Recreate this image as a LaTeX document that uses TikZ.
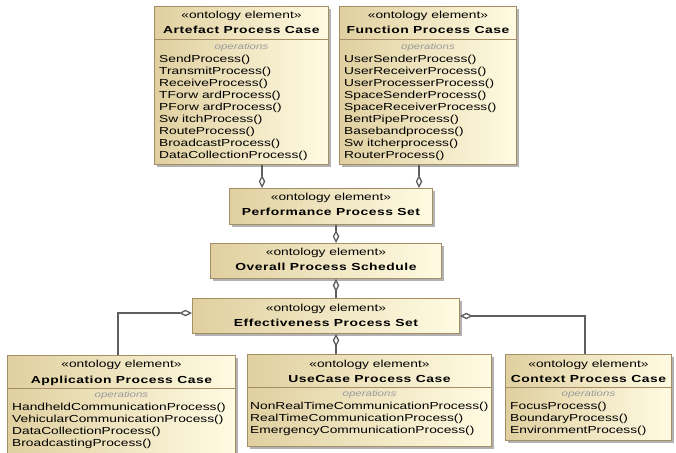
\documentclass[tikz,border=0pt]{standalone}
\usepackage{fontspec}
\setmainfont{Liberation Sans}[FakeStretch=1.35]
\newfontfamily\titlefam{Liberation Sans}[FakeStretch=1.36, LetterSpace=5]
\usetikzlibrary{arrows.meta, shadows}
\definecolor{boxL}{HTML}{E0D0A0}
\definecolor{boxR}{HTML}{FFFBE2}
\definecolor{boxEdge}{HTML}{A58D68}
\definecolor{wire}{HTML}{5E5E5E}
\definecolor{opsGray}{HTML}{9A9A9A}
\begin{document}
\begin{tikzpicture}[x=1pt, y=-1pt,
  umlbox/.style={draw=boxEdge, line width=0.9pt, left color=boxL, right color=boxR,
    drop shadow={shadow xshift=3pt, shadow yshift=-3pt, fill=black, opacity=0.3},
    rectangle, inner sep=0pt, anchor=north west},
  stereo/.style={font=\fontsize{10.2}{12}\selectfont, anchor=base, inner sep=0pt},
  title/.style={font=\titlefam\bfseries\fontsize{10.2}{12}\selectfont, anchor=base, inner sep=0pt},
  opslabel/.style={font=\itshape\fontsize{8.5}{10}\selectfont, text=opsGray, anchor=base, inner sep=0pt},
  oplist/.style={font=\fontsize{10.2}{12}\selectfont, align=left, anchor=north west, inner sep=0pt},
  sepline/.style={draw=boxEdge, line width=0.8pt},
  agg/.style={draw=wire, line width=1.3pt, -{Diamond[open, length=13pt, width=6.5pt, fill=white]}}
]
\useasboundingbox (0,0) rectangle (676,452);

% ---------- class boxes ----------
\node[umlbox, minimum width=174pt, minimum height=158pt] (art) at (154,6) {};
\node[umlbox, minimum width=177pt, minimum height=158pt] (fun) at (339,6) {};
\node[umlbox, minimum width=203pt, minimum height=36pt] (perf) at (229,188) {};
\node[umlbox, minimum width=231pt, minimum height=35pt] (over) at (210,243) {};
\node[umlbox, minimum width=267pt, minimum height=35pt] (eff) at (192,298) {};
\node[umlbox, minimum width=228pt, minimum height=110pt] (app) at (7,355) {};
\node[umlbox, minimum width=244pt, minimum height=92pt] (use) at (247,354) {};
\node[umlbox, minimum width=166pt, minimum height=86pt] (ctx) at (505,354) {};

% ---------- headers ----------
\node[stereo] (artS) at (art.north |- 0,19) {«ontology element»};
\node[title]  (artT) at (art.north |- 0,34) {Artefact Process Case};
\draw[sepline] (art.west |- 0,39) -- (art.east |- 0,39);
\node[opslabel] (artO) at (art.north |- 0,49) {operations};
\node[oplist] (artL) at ([xshift=5pt]art.west |- 0,55) {SendProcess()\\TransmitProcess()\\ReceiveProcess()\\TForw ardProcess()\\PForw ardProcess()\\Sw itchProcess()\\RouteProcess()\\BroadcastProcess()\\DataCollectionProcess()};

\node[stereo] (funS) at (fun.north |- 0,19) {«ontology element»};
\node[title]  (funT) at (fun.north |- 0,34) {Function Process Case};
\draw[sepline] (fun.west |- 0,39) -- (fun.east |- 0,39);
\node[opslabel] (funO) at (fun.north |- 0,49) {operations};
\node[oplist] (funL) at ([xshift=5pt]fun.west |- 0,55) {UserSenderProcess()\\UserReceiverProcess()\\UserProcesserProcess()\\SpaceSenderProcess()\\SpaceReceiverProcess()\\BentPipeProcess()\\Basebandprocess()\\Sw itcherprocess()\\RouterProcess()};

\node[stereo] (perfS) at (perf.north |- 0,200.5) {«ontology element»};
\node[title]  (perfT) at (perf.north |- 0,215.5) {Performance Process Set};

\node[stereo] (overS) at (over.north |- 0,255) {«ontology element»};
\node[title]  (overT) at (over.north |- 0,270.5) {Overall Process Schedule};

\node[stereo] (effS) at (eff.north |- 0,311.5) {«ontology element»};
\node[title]  (effT) at (eff.north |- 0,326.5) {Effectiveness Process Set};

\node[stereo] (appS) at (app.north |- 0,367) {«ontology element»};
\node[title]  (appT) at (app.north |- 0,383) {Application Process Case};
\draw[sepline] (app.west |- 0,388) -- (app.east |- 0,388);
\node[opslabel] (appO) at (app.north |- 0,397.5) {operations};
\node[oplist] (appL) at ([xshift=5pt]app.west |- 0,403) {HandheldCommunicationProcess()\\VehicularCommunicationProcess()\\DataCollectionProcess()\\BroadcastingProcess()};

\node[stereo] (useS) at (use.north |- 0,367) {«ontology element»};
\node[title]  (useT) at (use.north |- 0,382) {UseCase Process Case};
\draw[sepline] (use.west |- 0,387) -- (use.east |- 0,387);
\node[opslabel] (useO) at (use.north |- 0,396.5) {operations};
\node[oplist] (useL) at ([xshift=3pt]use.west |- 0,402) {NonRealTimeCommunicationProcess()\\RealTimeCommunicationProcess()\\EmergencyCommunicationProcess()};

\node[stereo] (ctxS) at (ctx.north |- 0,367) {«ontology element»};
\node[title]  (ctxT) at (ctx.north |- 0,382) {Context Process Case};
\draw[sepline] (ctx.west |- 0,387) -- (ctx.east |- 0,387);
\node[opslabel] (ctxO) at (ctx.north |- 0,396.5) {operations};
\node[oplist] (ctxL) at ([xshift=5pt]ctx.west |- 0,402) {FocusProcess()\\BoundaryProcess()\\EnvironmentProcess()};

% ---------- aggregation connectors ----------
\coordinate (xa) at (262,0);
\coordinate (xf) at (419,0);
\coordinate (xm) at (336,0);
\coordinate (xl) at (118,0);
\coordinate (xr) at (585,0);
\coordinate (yl) at (0,313);
\coordinate (yr) at (0,316);

\draw[agg] (xa |- art.south) -- (xa |- perf.north);
\draw[agg] (xf |- fun.south) -- (xf |- perf.north);
\draw[agg] (xm |- perf.south) -- (xm |- over.north);
\draw[agg] (xm |- eff.north) -- (xm |- over.south);
\draw[agg] (xm |- use.north) -- (xm |- eff.south);
\draw[agg] (xl |- app.north) |- (eff.west |- yl);
\draw[agg] (xr |- ctx.north) |- (eff.east |- yr);
\end{tikzpicture}
\end{document}
